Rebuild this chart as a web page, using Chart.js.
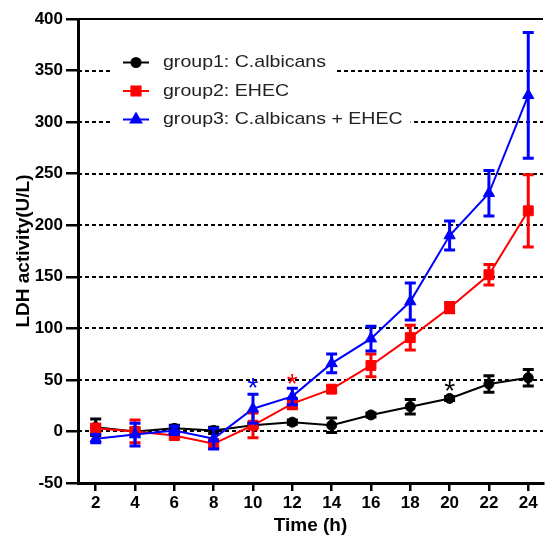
<!DOCTYPE html>
<html>
<head>
<meta charset="utf-8">
<script src="https://cdn.jsdelivr.net/npm/chart.js@4/dist/chart.umd.min.js"></script>
<style>
  html, body { margin: 0; padding: 0; background: #fff; }
  #wrap { width: 551px; height: 539px; }
</style>
</head>
<body>
<div id="wrap"><canvas id="ldh"></canvas></div>
<script>
  // ---- data ----
  const HOURS = [2, 4, 6, 8, 10, 12, 14, 16, 18, 20, 22, 24];
  const G1_MEAN = [4, 0, 3, 1, 6, 9, 6, 16, 24, 32, 46, 52];
  const G1_ERR  = [8, 3, 3, 3, 2, 2, 7, 2, 7, 2, 8, 8];
  const G2_MEAN = [3, 0, -4, -12, 6, 27, 41, 64, 91, 120, 152, 214];
  const G2_ERR  = [4, 11, 3, 4, 12, 5, 3, 11, 12, 5, 10, 35];
  const G3_MEAN = [-7, -3, 1, -7, 22, 34, 66, 90, 126, 190, 231, 326];
  const G3_ERR  = [4, 11, 4, 10, 14, 8, 9, 12, 18, 14, 22, 61];
  const LABELS = ['group1: C.albicans', 'group2: EHEC', 'group3: C.albicans + EHEC'];

  // significance marks: hour, y value, colour index
  const STAR_X = [10, 12, 20];
  const STAR_Y = [49, 53, 46];
  const STAR_SERIES = [2, 1, 0];

  const X_TICKS = [2, 4, 6, 8, 10, 12, 14, 16, 18, 20, 22, 24];
  const Y_TICKS = [-50, 0, 50, 100, 150, 200, 250, 300, 350, 400];

  const COLORS = ['#000000', '#ff0000', '#0000ff'];
  const STYLES = ['circle', 'rect', 'triangle'];
  const RADII = [5, 7, 6.5];
  const FONT = '"Liberation Sans", Arial, sans-serif';

  const series = [[G1_MEAN, G1_ERR], [G2_MEAN, G2_ERR], [G3_MEAN, G3_ERR]];
  const datasets = series.map(([m, e], i) => ({
    label: LABELS[i],
    data: HOURS.map((h, j) => ({ x: h, y: m[j] })),
    errors: e,
    borderColor: COLORS[i], backgroundColor: COLORS[i],
    pointBackgroundColor: COLORS[i], pointBorderColor: COLORS[i],
    borderWidth: 2, pointBorderWidth: 1,
    pointStyle: STYLES[i], pointRadius: RADII[i],
    order: 3 - i, clip: false,
  }));

  const ticksFrom = arr => scale => { scale.ticks = arr.map(v => ({ value: v })); };

  // ---- error bars, drawn under each dataset's line ----
  const errorBars = {
    id: 'errorBars',
    beforeDatasetDraw(chart, args) {
      const ds = chart.data.datasets[args.index];
      const meta = args.meta, y = chart.scales.y, ctx = chart.ctx;
      ctx.save();
      ctx.strokeStyle = ds.borderColor;
      ctx.lineWidth = 3;
      meta.data.forEach((pt, j) => {
        const v = ds.data[j].y, e = ds.errors[j];
        const t = y.getPixelForValue(v + e), b = y.getPixelForValue(v - e);
        ctx.beginPath();
        ctx.moveTo(pt.x, t); ctx.lineTo(pt.x, b);
        ctx.moveTo(pt.x - 5.5, t); ctx.lineTo(pt.x + 5.5, t);
        ctx.moveTo(pt.x - 5.5, b); ctx.lineTo(pt.x + 5.5, b);
        ctx.stroke();
      });
      ctx.restore();
    },
  };

  // ---- asterisks ----
  const stars = {
    id: 'stars',
    afterDatasetsDraw(chart) {
      const { ctx, scales: { x, y } } = chart;
      ctx.save();
      ctx.font = '28px ' + FONT;
      ctx.textAlign = 'center';
      ctx.textBaseline = 'alphabetic';
      STAR_X.forEach((h, i) => {
        ctx.fillStyle = COLORS[STAR_SERIES[i]];
        ctx.fillText('*', x.getPixelForValue(h), y.getPixelForValue(STAR_Y[i]) + 16);
      });
      ctx.restore();
    },
  };

  // ---- legend inside the plot, white behind each row ----
  const insideLegend = {
    id: 'insideLegend',
    afterDraw(chart) {
      const { ctx, chartArea } = chart;
      const x0 = chartArea.left + 45, sx = 1.15;
      ctx.save();
      ctx.font = '17px ' + FONT;
      ctx.textBaseline = 'middle';
      LABELS.forEach((text, i) => {
        const cy = chartArea.top + 43.5 + i * 28.5;
        const w = ctx.measureText(text).width * sx;
        ctx.fillStyle = '#fff';
        ctx.fillRect(x0 - 13, cy - 14, 40 + w + 8 + 13, 28.5);
        ctx.strokeStyle = COLORS[i]; ctx.fillStyle = COLORS[i]; ctx.lineWidth = 2;
        ctx.beginPath(); ctx.moveTo(x0, cy); ctx.lineTo(x0 + 26, cy); ctx.stroke();
        Chart.helpers.drawPoint(ctx, { pointStyle: STYLES[i], radius: RADII[i] - 0.5, borderWidth: 1 }, x0 + 13, cy);
        ctx.save();
        ctx.translate(x0 + 40, cy);
        ctx.scale(sx, 1);
        ctx.fillStyle = '#222';
        ctx.fillText(text, 0, 0);
        ctx.restore();
      });
      ctx.restore();
    },
  };

  new Chart(document.getElementById('ldh'), {
    type: 'line',
    data: { datasets },
    plugins: [errorBars, stars, insideLegend],
    options: {
      responsive: true, maintainAspectRatio: false, animation: false,
      layout: { padding: { top: 19, right: 0, bottom: 0, left: 0 } },
      plugins: { legend: { display: false }, tooltip: { enabled: false } },
      scales: {
        x: {
          type: 'linear', min: 1.1, max: 24.75,
          afterBuildTicks: ticksFrom(X_TICKS),
          afterFit: s => { s.height = 56; },
          grid: { drawOnChartArea: false, tickLength: 8, color: '#000', lineWidth: 2.5 },
          border: { color: '#000', width: 3 },
          ticks: { color: '#000', padding: 2, font: { family: FONT, size: 17, weight: 'bold' } },
          title: { display: true, text: 'Time (h)', color: '#000', padding: { top: 0, bottom: 2 },
                   font: { family: FONT, size: 19, weight: 'bold' } },
        },
        y: {
          min: -50, max: 400,
          afterBuildTicks: ticksFrom(Y_TICKS),
          afterFit: s => { s.width = 78; },
          grid: { drawOnChartArea: false, tickLength: 12, color: '#000', lineWidth: 2.5 },
          border: { color: '#000', width: 3 },
          ticks: { color: '#000', padding: 3, font: { family: FONT, size: 17, weight: 'bold' } },
          title: { display: true, text: 'LDH activity(U/L)', color: '#000', padding: { top: 12, bottom: 0 },
                   font: { family: FONT, size: 19, weight: 'bold' } },
        },
        yg: {
          position: 'left', min: -50, max: 400,
          afterBuildTicks: ticksFrom(Y_TICKS),
          afterFit: s => { s.width = 0; },
          ticks: { display: false },
          grid: {
            drawTicks: false, lineWidth: 2,
            color: c => c.tick && c.tick.value === -50 ? 'rgba(0,0,0,0)' : '#000',
          },
          border: { display: false, dash: c => c.tick && c.tick.value === 400 ? [] : [4, 3] },
        },
      },
    },
  });
</script>
</body>
</html>
